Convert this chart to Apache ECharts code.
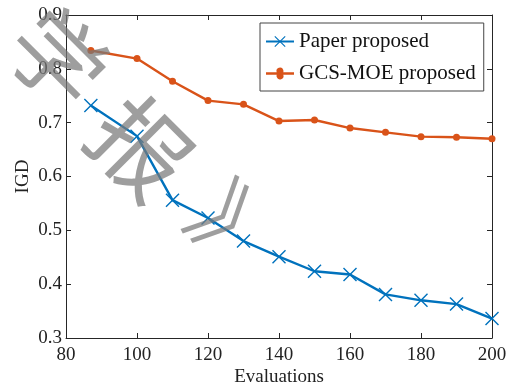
<!DOCTYPE html>
<html>
<head>
<meta charset="utf-8">
<script src="https://cdn.jsdelivr.net/npm/echarts@6/dist/echarts.min.js"></script>
<style>
  html, body { margin: 0; padding: 0; background: #fff; }
  #chart { width: 518px; height: 390px; }
</style>
</head>
<body>
<div id="chart"></div>
<script>
// Function evaluations (x) and IGD of each method (y)
const evaluations = [87, 100, 110, 120, 130, 140, 150, 160, 170, 180, 190, 200];
const paperIGD = [0.732, 0.675, 0.556, 0.523, 0.480, 0.451, 0.424, 0.418, 0.381, 0.370, 0.363, 0.336];
const gcsIGD = [0.834, 0.819, 0.777, 0.741, 0.734, 0.703, 0.705, 0.690, 0.682, 0.674, 0.673, 0.670];
const seriesNames = ['Paper proposed', 'GCS-MOE proposed'];
const watermarkChars = ['学', '报', '》'];

const serif = 'Liberation Serif';
const axisColor = '#262626';
const crossPath = 'path://M0,1L1,0L7,6L13,0L14,1L8,7L14,13L13,14L7,8L1,14L0,13L6,7Z';
// legend key for the dotted line: a short line with a small dot in the middle
const lineDotPath = 'path://M0,5.8H10.71A3.5,3.5 0 1 1 17.29,5.8H28V8.2H17.29A3.5,3.5 0 1 1 10.71,8.2H0Z';

const toPairs = ys => evaluations.map((x, i) => [x, ys[i]]);

const chart = echarts.init(document.getElementById('chart'), null, { renderer: 'canvas' });

const textStyle = { fontFamily: serif, fontSize: 19, color: '#222' };

const baseX = {
  type: 'value', min: 80, max: 200, interval: 20,
  axisLine: { show: true, onZero: false, lineStyle: { color: axisColor, width: 1 } },
  axisTick: { show: true, inside: true, length: 5, lineStyle: { color: axisColor } },
  splitLine: { show: false }
};
const baseY = {
  type: 'value', min: 0.3, max: 0.9, interval: 0.1,
  axisLine: { show: true, onZero: false, lineStyle: { color: axisColor, width: 1 } },
  axisTick: { show: true, inside: true, length: 5, lineStyle: { color: axisColor } },
  splitLine: { show: false }
};

chart.setOption({
  animation: false,
  backgroundColor: '#fff',
  textStyle: { fontFamily: serif },
  grid: { left: 66, right: 26, top: 15, bottom: 52, containLabel: false, outerBoundsMode: 'none' },
  xAxis: [
    Object.assign({}, baseX, {
      position: 'bottom',
      name: 'Evaluations', nameLocation: 'middle', nameGap: 30, nameMoveOverlap: false,
      nameTextStyle: textStyle,
      axisLabel: Object.assign({ margin: 8 }, textStyle)
    }),
    Object.assign({}, baseX, { position: 'top', axisLabel: { show: false } })
  ],
  yAxis: [
    Object.assign({}, baseY, {
      position: 'left',
      name: 'IGD', nameLocation: 'middle', nameGap: 33, nameMoveOverlap: false,
      nameTextStyle: textStyle,
      axisLabel: Object.assign({ margin: 4, formatter: v => v.toFixed(1) }, textStyle)
    }),
    Object.assign({}, baseY, { position: 'right', axisLabel: { show: false } })
  ],
  legend: {
    orient: 'vertical', left: 260, top: 23,
    backgroundColor: '#fff', borderColor: '#444', borderWidth: 1,
    padding: [8, 8, 7, 5], itemGap: 11, itemWidth: 28, itemHeight: 14,
    textStyle: { fontFamily: serif, fontSize: 21, color: '#111' },
    data: [
      { name: seriesNames[0] },
      { name: seriesNames[1], icon: lineDotPath }
    ]
  },
  series: [
    {
      name: seriesNames[0], type: 'line', data: toPairs(paperIGD),
      symbol: crossPath, symbolSize: 14,
      itemStyle: { color: '#0072BD' },
      lineStyle: { color: '#0072BD', width: 2.4 }
    },
    {
      name: seriesNames[1], type: 'line', data: toPairs(gcsIGD),
      symbol: 'circle', symbolSize: 7,
      itemStyle: { color: '#D95319' },
      lineStyle: { color: '#D95319', width: 2.4 }
    }
  ],
  // diagonal watermark drawn over the plot
  graphic: [
    { x: 58, y: 58, s: 94 },
    { x: 141, y: 148, s: 96 },
    { x: 236, y: 230, s: 86 }
  ].map((p, i) => ({
    type: 'text', x: p.x, y: p.y, rotation: -Math.PI / 4, z: 100,
    style: {
      text: watermarkChars[i], fill: 'rgba(120,120,120,0.72)',
      font: p.s + 'px "Noto Sans CJK SC"', align: 'center', verticalAlign: 'middle'
    }
  }))
});
</script>
</body>
</html>
